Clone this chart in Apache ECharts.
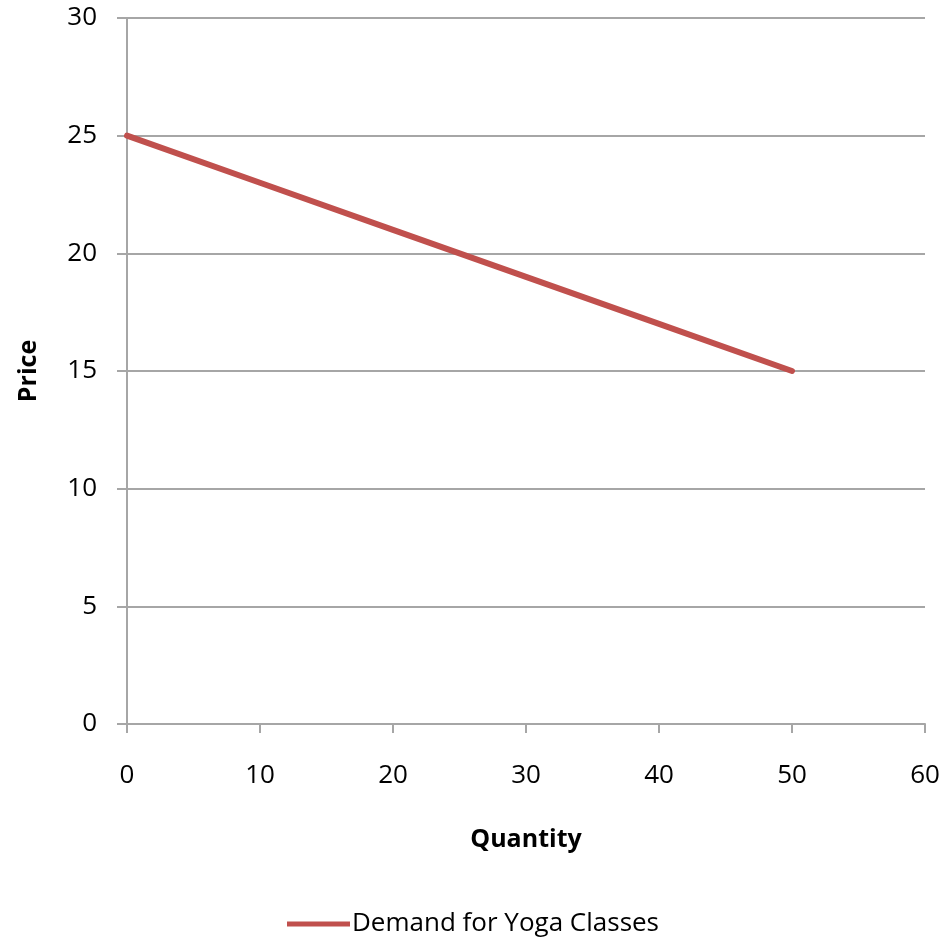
<!DOCTYPE html>
<html>
<head>
<meta charset="utf-8">
<script src="https://cdn.jsdelivr.net/npm/echarts@6/dist/echarts.min.js"></script>
<style>html,body{margin:0;padding:0;background:#fff}#c{width:945px;height:937px}</style>
</head>
<body>
<div id="c"></div>
<script>
const quantity = [0, 10, 20, 30, 40, 50];
const price = [25, 23, 21, 19, 17, 15];
const seriesName = 'Demand for Yoga Classes';
const xTitle = 'Quantity';
const yTitle = 'Price';

const chart = echarts.init(document.getElementById('c'));
const font = '"Open Sans", "Noto Sans", sans-serif';
const gray = '#A6A6A6';
chart.setOption({
  animation: false,
  grid: { left: 127, top: 18, width: 798, height: 706, containLabel: false },
  legend: {
    left: 282, top: 906,
    icon: 'rect', itemWidth: 63, itemHeight: 5, itemGap: 10,
    textStyle: { fontFamily: font, fontSize: 26, color: '#000', padding: [0, 0, 0, -3] },
    data: [seriesName]
  },
  xAxis: {
    type: 'value', min: 0, max: 60, interval: 10,
    name: xTitle, nameLocation: 'middle', nameGap: 103,
    nameTextStyle: { fontFamily: font, fontSize: 25, fontWeight: 'bold', color: '#000' },
    axisLine: { show: true, lineStyle: { color: gray, width: 2 } },
    axisTick: { show: true, inside: false, length: 9, lineStyle: { color: gray, width: 2 } },
    axisLabel: { margin: 39, fontFamily: font, fontSize: 26, color: '#000' },
    splitLine: { show: false }
  },
  yAxis: {
    type: 'value', min: 0, max: 30, interval: 5,
    name: yTitle, nameLocation: 'middle', nameGap: 86,
    nameTextStyle: { fontFamily: font, fontSize: 25, fontWeight: 'bold', color: '#000' },
    axisLine: { show: true, lineStyle: { color: gray, width: 2 } },
    axisTick: { show: true, inside: false, length: 10, lineStyle: { color: gray, width: 2 } },
    axisLabel: { margin: 30, fontFamily: font, fontSize: 26, color: '#000' },
    splitLine: { show: true, lineStyle: { color: gray, width: 2 } }
  },
  series: [{
    name: seriesName, type: 'line',
    data: quantity.map((q, i) => [q, price[i]]),
    showSymbol: false, symbol: 'none',
    lineStyle: { color: '#C0504D', width: 6, cap: 'round' },
    itemStyle: { color: '#C0504D' }
  }]
});
</script>
</body>
</html>
